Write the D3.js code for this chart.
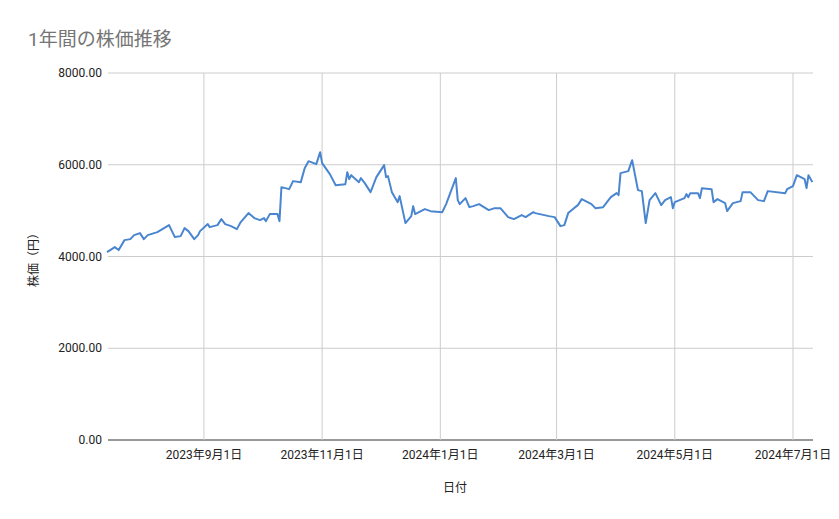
<!DOCTYPE html>
<html><head><meta charset="utf-8">
<script src="https://cdn.jsdelivr.net/npm/d3@7"></script>
<style>body{margin:0;background:#fff}text{font-family:Roboto,"Noto Sans CJK JP",sans-serif}</style>
</head><body><svg id="c" width="839" height="519"></svg>
<script>
const dates=["2023-07-13","2023-07-17","2023-07-19","2023-07-22","2023-07-25","2023-07-27","2023-07-30","2023-08-01","2023-08-03","2023-08-08","2023-08-14","2023-08-17","2023-08-20","2023-08-22","2023-08-24","2023-08-27","2023-08-29","2023-08-30","2023-09-03","2023-09-04","2023-09-08","2023-09-10","2023-09-12","2023-09-15","2023-09-18","2023-09-20","2023-09-24","2023-09-27","2023-09-30","2023-10-02","2023-10-03","2023-10-05","2023-10-09","2023-10-10","2023-10-11","2023-10-15","2023-10-17","2023-10-21","2023-10-23","2023-10-25","2023-10-29","2023-10-31","2023-11-01","2023-11-05","2023-11-08","2023-11-13","2023-11-14","2023-11-15","2023-11-16","2023-11-20","2023-11-21","2023-11-23","2023-11-26","2023-11-29","2023-12-03","2023-12-04","2023-12-05","2023-12-07","2023-12-10","2023-12-11","2023-12-14","2023-12-17","2023-12-18","2023-12-19","2023-12-24","2023-12-27","2024-01-02","2024-01-04","2024-01-09","2024-01-10","2024-01-11","2024-01-14","2024-01-16","2024-01-18","2024-01-21","2024-01-26","2024-01-29","2024-02-01","2024-02-05","2024-02-08","2024-02-12","2024-02-14","2024-02-18","2024-02-19","2024-02-26","2024-02-29","2024-03-03","2024-03-05","2024-03-07","2024-03-10","2024-03-12","2024-03-14","2024-03-19","2024-03-21","2024-03-25","2024-03-29","2024-04-01","2024-04-02","2024-04-03","2024-04-07","2024-04-09","2024-04-12","2024-04-14","2024-04-16","2024-04-18","2024-04-21","2024-04-24","2024-04-26","2024-04-29","2024-04-30","2024-05-01","2024-05-06","2024-05-07","2024-05-08","2024-05-09","2024-05-13","2024-05-14","2024-05-15","2024-05-20","2024-05-21","2024-05-23","2024-05-27","2024-05-28","2024-05-31","2024-06-04","2024-06-05","2024-06-09","2024-06-13","2024-06-16","2024-06-18","2024-06-27","2024-06-28","2024-07-01","2024-07-03","2024-07-07","2024-07-08","2024-07-09","2024-07-11"];
const prices=[4096,4205,4140,4357,4379,4466,4510,4379,4466,4532,4684,4423,4444,4619,4553,4379,4466,4553,4706,4640,4684,4815,4706,4662,4597,4750,4946,4837,4793,4837,4771,4924,4924,4771,5512,5468,5643,5621,5926,6078,6013,6274,6035,5795,5555,5577,5839,5686,5773,5621,5708,5599,5403,5730,5991,5730,5752,5403,5185,5316,4728,4880,5098,4924,5033,4989,4967,5142,5708,5229,5142,5272,5076,5098,5142,5011,5054,5054,4858,4815,4902,4858,4967,4946,4880,4858,4662,4684,4946,5054,5120,5251,5142,5054,5076,5294,5381,5338,5817,5861,6100,5447,5425,4728,5229,5381,5120,5229,5294,5054,5185,5272,5359,5294,5381,5381,5272,5490,5468,5185,5251,5163,4989,5163,5207,5403,5403,5229,5207,5425,5381,5468,5534,5773,5686,5490,5773,5621];
const xTicks=["2023-09-01","2023-11-01","2024-01-01","2024-03-01","2024-05-01","2024-07-01"];
const yTicks=[0,2000,4000,6000,8000];
const title="1年間の株価推移", yTitle="株価（円）", xTitle="日付";

const p=d3.timeParse("%Y-%m-%d");
const svg=d3.select("#c");
const L=108,R=813,T=73,B=440;
const x=d3.scaleTime().domain([new Date(2023,6,13,12),new Date(2024,6,11,8)]).range([L,R]);
const y=d3.scaleLinear().domain([0,8000]).range([B,T]);
const fmtD=d=>`${d.getFullYear()}年${d.getMonth()+1}月${d.getDate()}日`;
svg.append("g").selectAll("line").data(yTicks).join("line")
 .attr("x1",L).attr("x2",R).attr("y1",d=>y(d)).attr("y2",d=>y(d))
 .attr("stroke",d=>d===0?"#333":"#ccc").attr("stroke-width",1);
svg.append("g").selectAll("line").data(xTicks).join("line")
 .attr("x1",d=>x(p(d))).attr("x2",d=>x(p(d))).attr("y1",T).attr("y2",B).attr("stroke","#ccc");
svg.append("g").selectAll("text").data(yTicks).join("text")
 .attr("x",102).attr("y",d=>y(d)+4).attr("text-anchor","end").attr("font-size",12).attr("fill","#222")
 .text(d=>d.toFixed(2));
svg.append("g").selectAll("text").data(xTicks).join("text")
 .attr("x",d=>x(p(d))).attr("y",459).attr("text-anchor","middle").attr("font-size",12).attr("fill","#222")
 .text(d=>fmtD(p(d)));
const data=dates.map((d,i)=>({d:p(d),v:prices[i]}));
svg.append("path").datum(data).attr("fill","none").attr("stroke","#4a86d0").attr("stroke-width",2)
 .attr("stroke-linejoin","round").attr("d",d3.line().x(d=>x(d.d)).y(d=>y(d.v)));
svg.append("text").attr("x",28).attr("y",46).attr("font-size",19).attr("fill","#757575").text(title);
svg.append("text").attr("transform","translate(38,257) rotate(-90)").attr("text-anchor","middle").attr("font-size",12).attr("fill","#222").text(yTitle);
svg.append("text").attr("x",455).attr("y",492).attr("text-anchor","middle").attr("font-size",12).attr("fill","#222").text(xTitle);
</script></body></html>
